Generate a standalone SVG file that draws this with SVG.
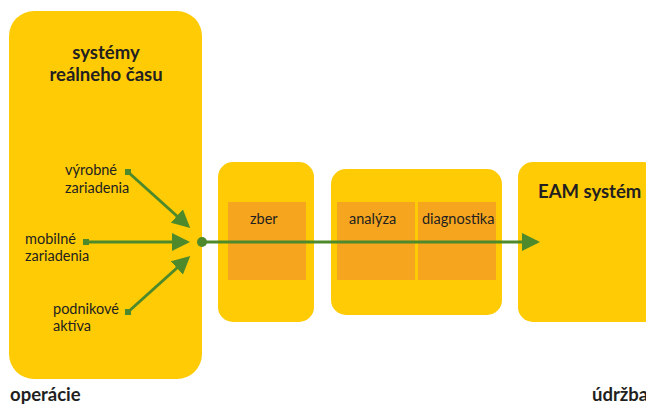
<svg xmlns="http://www.w3.org/2000/svg" width="646" height="406" viewBox="0 0 646 406">
<style>
.box{fill:#FFCB05}
.inner{fill:#F6A51E}
.t{font-family:Lato,"Liberation Sans",sans-serif;font-size:14.5px;fill:#231F20}
.b{font-family:Lato,"Liberation Sans",sans-serif;font-size:18.5px;font-weight:bold;fill:#231F20}
.ln{stroke:#4E8A2B;stroke-width:3;fill:none}
.sq{fill:#4E8A2B}
</style>
<defs>
<marker id="ah" markerWidth="6" markerHeight="6" refX="5" refY="3" orient="auto" markerUnits="strokeWidth">
<path d="M0,0 L6,3 L0,6 z" fill="#4E8A2B"/>
</marker>
</defs>
<rect width="646" height="406" fill="#fff"/>
<g id="realtime">
<rect class="box" x="9" y="11" width="193" height="368" rx="25"/>
<text class="b" x="106" y="59" text-anchor="middle">systémy</text>
<text class="b" x="106" y="81" text-anchor="middle">reálneho času</text>
</g>
<g id="vyrobne">
<rect class="sq" x="125" y="169" width="6" height="6"/>
<text class="t" x="65" y="175">výrobné</text>
<text class="t" x="65" y="193">zariadenia</text>
</g>
<g id="mobilne">
<rect class="sq" x="83" y="239" width="6" height="6"/>
<text class="t" x="25" y="244">mobilné</text>
<text class="t" x="25" y="261">zariadenia</text>
</g>
<g id="podnikove">
<rect class="sq" x="125" y="309" width="6" height="6"/>
<text class="t" x="53" y="314">podnikové</text>
<text class="t" x="53" y="331">aktíva</text>
</g>
<g id="zber">
<rect class="box" x="218" y="162" width="96" height="160" rx="15"/>
<rect class="inner" x="228" y="202" width="78" height="78"/>
<text class="t" x="250" y="224">zber</text>
</g>
<g id="analyza-diagnostika">
<rect class="box" x="331" y="169" width="171" height="146" rx="15"/>
<rect class="inner" x="337" y="202" width="78" height="78"/>
<rect class="inner" x="418" y="202" width="78" height="78"/>
<text class="t" x="349" y="224">analýza</text>
<text class="t" x="422" y="224">diagnostika</text>
</g>
<g id="eam">
<rect class="box" x="518" y="162" width="140" height="160" rx="15"/>
<text class="b" x="538" y="198">EAM systém</text>
</g>
<g id="connectors">
<line class="ln" x1="128" y1="172" x2="188" y2="226" marker-end="url(#ah)"/>
<line class="ln" x1="86" y1="242" x2="187" y2="242" marker-end="url(#ah)"/>
<line class="ln" x1="128" y1="312" x2="188" y2="258" marker-end="url(#ah)"/>
<line class="ln" x1="202" y1="242" x2="537" y2="242" marker-end="url(#ah)"/>
<circle cx="202" cy="242" r="5" fill="#4E8A2B"/>
</g>
<text class="b" x="10" y="401">operácie</text>
<text class="b" x="592" y="401">údržba</text>
</svg>
